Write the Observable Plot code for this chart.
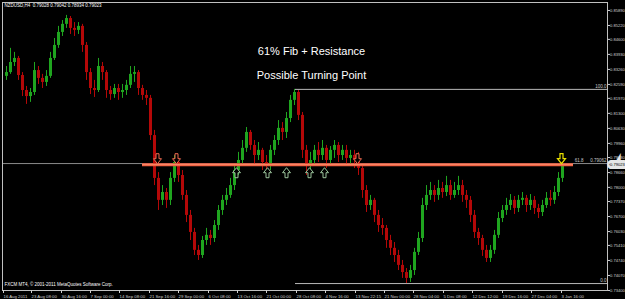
<!DOCTYPE html>
<html><head><meta charset="utf-8">
<script src="https://cdn.jsdelivr.net/npm/d3@7"></script>
<script src="https://cdn.jsdelivr.net/npm/@observablehq/plot@0.6"></script>
<style>
html,body{margin:0;padding:0;background:#000;}
#chart{width:625px;height:299px;overflow:hidden;}
svg{display:block;}
</style></head><body><div id="chart"></div>
<script>
// ---- data (NZDUSD H4, each candle here ~ a group of bars) ----
const headerLabel = "NZDUSD,H4  0.79028 0.79042 0.78934 0.79023";
const copyrightLabel = "FXCM MT4, \u00A9 2001-2011 MetaQuotes Software Corp.";

const open = [
0.8295,0.8312,0.8357,0.8375,0.8299,0.8232,0.8205,0.8223,0.8321,0.8286,
0.8268,0.8295,0.8375,0.8433,0.8491,0.8527,0.8553,0.8509,0.8500,0.8518,
0.8433,0.8312,0.8241,0.8232,0.8339,0.8312,0.8232,0.8214,0.8241,0.8223,
0.8232,0.8255,0.8304,0.8312,0.8241,0.8210,0.8197,0.8031,0.7840,0.7742,
0.7777,0.7742,0.7840,0.7911,0.7853,0.7764,0.7675,0.7599,0.7519,0.7496,
0.7563,0.7586,0.7572,0.7630,0.7697,0.7742,0.7764,0.7808,0.7875,0.7920,
0.7974,0.8045,0.7987,0.7942,0.7965,0.7911,0.7898,0.7965,0.8009,0.8063,
0.8045,0.8107,0.8188,0.8223,0.8121,0.7965,0.7898,0.7920,0.7965,0.7942,
0.7974,0.7920,0.7965,0.7987,0.7942,0.7965,0.7929,0.7942,0.7920,0.7884,
0.7786,0.7719,0.7742,0.7675,0.7630,0.7617,0.7563,0.7528,0.7496,0.7452,
0.7420,0.7394,0.7429,0.7510,0.7572,0.7719,0.7764,0.7786,0.7764,0.7795,
0.7777,0.7808,0.7764,0.7786,0.7808,0.7764,0.7742,0.7675,0.7599,0.7572,
0.7519,0.7483,0.7519,0.7586,0.7661,0.7697,0.7719,0.7742,0.7706,0.7742,
0.7751,0.7719,0.7742,0.7706,0.7688,0.7719,0.7751,0.7742,0.7777,0.7840];
const high = [
0.8339,0.8420,0.8402,0.8384,0.8312,0.8250,0.8241,0.8357,0.8339,0.8304,
0.8321,0.8402,0.8464,0.8518,0.8544,0.8567,0.8562,0.8535,0.8535,0.8527,
0.8446,0.8330,0.8277,0.8375,0.8357,0.8321,0.8250,0.8259,0.8259,0.8259,
0.8277,0.8339,0.8339,0.8321,0.8255,0.8232,0.8210,0.8054,0.7866,0.7808,
0.7795,0.7866,0.7942,0.7929,0.7875,0.7786,0.7697,0.7617,0.7541,0.7581,
0.7617,0.7608,0.7652,0.7719,0.7764,0.7795,0.7840,0.7898,0.7956,0.8009,
0.8067,0.8054,0.8009,0.8000,0.7974,0.7942,0.7987,0.8031,0.8098,0.8089,
0.8134,0.8210,0.8237,0.8232,0.8134,0.7987,0.7956,0.7987,0.8000,0.8009,
0.7987,0.7982,0.8009,0.8000,0.7987,0.7987,0.7965,0.7965,0.7956,0.7898,
0.7808,0.7764,0.7751,0.7697,0.7661,0.7630,0.7586,0.7554,0.7519,0.7474,
0.7438,0.7452,0.7528,0.7599,0.7751,0.7808,0.7822,0.7808,0.7831,0.7822,
0.7849,0.7831,0.7822,0.7849,0.7831,0.7786,0.7759,0.7697,0.7617,0.7586,
0.7541,0.7541,0.7608,0.7688,0.7719,0.7751,0.7768,0.7759,0.7764,0.7777,
0.7764,0.7768,0.7759,0.7724,0.7742,0.7777,0.7786,0.7804,0.7866,0.7907];
const low = [
0.8277,0.8304,0.8339,0.8277,0.8205,0.8170,0.8179,0.8210,0.8259,0.8241,
0.8250,0.8286,0.8366,0.8420,0.8473,0.8509,0.8482,0.8473,0.8482,0.8402,
0.8277,0.8214,0.8201,0.8223,0.8277,0.8197,0.8188,0.8197,0.8188,0.8197,
0.8210,0.8241,0.8268,0.8210,0.8188,0.8165,0.8009,0.7808,0.7697,0.7719,
0.7706,0.7719,0.7822,0.7822,0.7742,0.7643,0.7563,0.7496,0.7474,0.7483,
0.7541,0.7541,0.7554,0.7608,0.7675,0.7719,0.7751,0.7786,0.7853,0.7898,
0.7956,0.7965,0.7898,0.7920,0.7875,0.7853,0.7875,0.7942,0.7987,0.8009,
0.8018,0.8089,0.8165,0.8098,0.7929,0.7853,0.7866,0.7898,0.7911,0.7920,
0.7884,0.7898,0.7929,0.7911,0.7920,0.7898,0.7898,0.7884,0.7853,0.7751,
0.7688,0.7697,0.7643,0.7599,0.7586,0.7528,0.7496,0.7465,0.7429,0.7394,
0.7371,0.7376,0.7407,0.7496,0.7554,0.7697,0.7742,0.7733,0.7742,0.7751,
0.7759,0.7742,0.7751,0.7764,0.7733,0.7706,0.7643,0.7572,0.7541,0.7492,
0.7465,0.7465,0.7501,0.7572,0.7643,0.7675,0.7697,0.7679,0.7688,0.7719,
0.7688,0.7697,0.7679,0.7661,0.7670,0.7706,0.7715,0.7724,0.7759,0.7822];
const close = [
0.8312,0.8357,0.8375,0.8299,0.8232,0.8205,0.8223,0.8321,0.8286,0.8268,
0.8295,0.8375,0.8433,0.8491,0.8527,0.8553,0.8509,0.8500,0.8518,0.8433,
0.8312,0.8241,0.8232,0.8339,0.8312,0.8232,0.8214,0.8241,0.8223,0.8232,
0.8255,0.8304,0.8312,0.8241,0.8210,0.8197,0.8031,0.7840,0.7742,0.7777,
0.7742,0.7840,0.7911,0.7853,0.7764,0.7675,0.7599,0.7519,0.7496,0.7563,
0.7586,0.7572,0.7630,0.7697,0.7742,0.7764,0.7808,0.7875,0.7920,0.7974,
0.8045,0.7987,0.7942,0.7965,0.7911,0.7898,0.7965,0.8009,0.8063,0.8045,
0.8107,0.8188,0.8223,0.8121,0.7965,0.7898,0.7920,0.7965,0.7942,0.7974,
0.7920,0.7965,0.7987,0.7942,0.7965,0.7929,0.7942,0.7920,0.7884,0.7786,
0.7719,0.7742,0.7675,0.7630,0.7617,0.7563,0.7528,0.7496,0.7452,0.7420,
0.7394,0.7429,0.7510,0.7572,0.7719,0.7764,0.7786,0.7764,0.7795,0.7777,
0.7808,0.7764,0.7786,0.7808,0.7764,0.7742,0.7675,0.7599,0.7572,0.7519,
0.7483,0.7519,0.7586,0.7661,0.7697,0.7719,0.7742,0.7706,0.7742,0.7751,
0.7719,0.7742,0.7706,0.7688,0.7719,0.7751,0.7742,0.7777,0.7840,0.79023];

const dateLabels = ["16 Aug 2011","23 Aug 08:00","30 Aug 16:00","7 Sep 00:00","14 Sep 08:00",
"21 Sep 16:00","29 Sep 00:00","6 Oct 08:00","13 Oct 16:00","21 Oct 00:00","28 Oct 08:00",
"4 Nov 16:00","13 Nov 22:15","21 Nov 00:00","28 Nov 04:00","5 Dec 08:00","12 Dec 12:00",
"19 Dec 16:00","27 Dec 04:00","3 Jan 16:00"];
const dateIdx = [-1,6,13.5,20.75,28,35.5,42.75,50.25,57.5,64.75,72.25,79.5,87,94.25,101.5,109,116.25,123.75,131,138.5];

const priceTicks = [0.85890,0.85220,0.84600,0.83930,0.83260,0.82590,0.81970,0.81300,0.80630,0.79960,
0.79330,0.78660,0.78000,0.77370,0.76700,0.76030,0.75410,0.74740,0.74070,0.73400];

// Fibonacci retracement anchors and resistance
const fibHigh = 0.8237, fibLow = 0.7371, fibStartIdx = 72.25;
const resistance = 0.7901, resStartIdx = 34, resEndIdx = 141.75;

// arrow annotations (candle index)
const downArrowIdx = [37.75, 42.5, 87.75];
const upArrowIdx = [57.5, 65.25, 70, 75.75, 79.5];
const yellowArrowIdx = [138.75];

const notes = ["61% Fib + Resistance", "Possible Turning Point"];
const noteIdx = [76.25, 76.25];
const notePrice = [0.8406, 0.8299];

// ---- chart ----
const N = close.length;
const candles = d3.range(N).map(i => ({i, o: open[i], h: high[i], l: low[i], c: close[i], up: close[i] >= open[i]}));
const UP = "#1fa51f", DN = "#b40808";
const fib = p => fibLow + (fibHigh - fibLow) * p / 100;
const f5 = d3.format(".5f");
const xEnd = 150.25;

const arrowDown = {draw(ctx) { ctx.moveTo(-1.5,-5); ctx.lineTo(1.5,-5); ctx.lineTo(1.5,0); ctx.lineTo(4,0); ctx.lineTo(0,5); ctx.lineTo(-4,0); ctx.lineTo(-1.5,0); ctx.closePath(); }};
const arrowUp = {draw(ctx) { ctx.moveTo(-1.5,5); ctx.lineTo(1.5,5); ctx.lineTo(1.5,0); ctx.lineTo(4,0); ctx.lineTo(0,-5); ctx.lineTo(-4,0); ctx.lineTo(-1.5,0); ctx.closePath(); }};

const small = {fontSize: 4.5, fontFamily: "Liberation Sans, Arial, sans-serif"};

const chart = Plot.plot({
  width: 625, height: 299,
  marginLeft: 2, marginRight: 18, marginTop: 2, marginBottom: 9,
  style: {background: "#000", color: "#d8d8d8", fontFamily: "Liberation Sans, Arial, sans-serif", overflow: "visible"},
  x: {domain: [-1, xEnd], axis: null},
  y: {domain: [0.7340, 0.86245], axis: null},
  color: {type: "identity"},
  marks: [
    Plot.ruleY([fib(61.8)], {stroke: "#8a8a8a", strokeWidth: 1}),
    Plot.ruleY([fib(100), fib(0)], {x1: fibStartIdx, x2: xEnd, stroke: "#b8b8b8", strokeWidth: 1}),
    Plot.ruleX(candles, {x: "i", y1: "l", y2: "h", stroke: d => d.up ? UP : DN, strokeWidth: 1}),
    Plot.ruleX(candles, {x: "i", y1: "o", y2: "c", stroke: d => d.up ? UP : DN, strokeWidth: 3}),
    Plot.ruleY([resistance], {x1: resStartIdx, x2: resEndIdx, stroke: "#f05a3c", strokeWidth: 3}),
    Plot.ruleY([resistance], {x1: resStartIdx, x2: resEndIdx, stroke: "#ff9a78", strokeWidth: 0.8}),
    Plot.dot(downArrowIdx, {x: d => d, y: resistance, dy: -6, symbol: arrowDown, stroke: "#f06a50", fill: "#000", strokeWidth: 1}),
    Plot.dot(yellowArrowIdx, {x: d => d, y: resistance, dy: -6, symbol: arrowDown, stroke: "#e8e000", fill: "#000", strokeWidth: 1.2}),
    Plot.dot(upArrowIdx, {x: d => d, y: resistance, dy: 8, symbol: arrowUp, stroke: "#9cc49c", fill: "#000", strokeWidth: 1}),
    Plot.text(notes, {x: (d, i) => noteIdx[i], y: (d, i) => notePrice[i], text: d => d, fill: "#fff", fontSize: 11, textAnchor: "middle"}),
    Plot.text(["100.0", "0.0"], {y: [fib(100), fib(0)], frameAnchor: "right", textAnchor: "end", dx: -1, dy: -3, fill: "#c8c8c8", ...small}),
    Plot.text(["61.8"], {y: [fib(61.8)], frameAnchor: "right", textAnchor: "end", dx: -24, dy: -3, fill: "#c8c8c8", ...small}),
    Plot.text([fib(61.8)], {y: d => d, text: d => f5(d), frameAnchor: "right", textAnchor: "end", dx: -1, dy: -3, fill: "#c8c8c8", ...small}),
    Plot.frame({stroke: "#c0c0c0", strokeWidth: 1}),
    Plot.axisY({ticks: priceTicks, anchor: "right", tickSize: 2, tickPadding: 0.5, tickFormat: f5, label: null, color: "#d0d0d0", ...small, fontSize: 4.1}),
    Plot.axisX({ticks: dateIdx, anchor: "bottom", tickSize: 3, tickPadding: 1, tickFormat: d => dateLabels[dateIdx.indexOf(d)], textAnchor: "start", dx: 1, label: null, color: "#d0d0d0", ...small, fontSize: 4.3}),
    Plot.text([close[N - 1]], {y: d => d, text: d => f5(d), frameAnchor: "right", textAnchor: "start", dx: 2.5, fill: "#000", stroke: "#e6e6e6", strokeWidth: 6, strokeLinejoin: "miter", paintOrder: "stroke", ...small, fontSize: 4.1}),
    Plot.text([headerLabel], {frameAnchor: "top-left", dx: 2, dy: 1, lineAnchor: "top", textAnchor: "start", fill: "#fff", ...small}),
    Plot.text([copyrightLabel], {frameAnchor: "bottom-left", dx: 2, dy: -5, lineAnchor: "bottom", textAnchor: "start", fill: "#fff", ...small})
  ]
});
document.getElementById("chart").appendChild(chart);
</script></body></html>
